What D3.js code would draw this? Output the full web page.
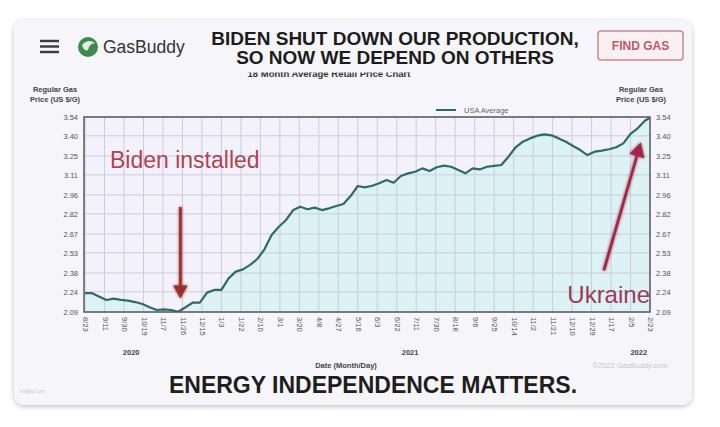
<!DOCTYPE html>
<html>
<head>
<meta charset="utf-8">
<script src="https://cdn.jsdelivr.net/npm/d3@7"></script>
<style>
  html, body { margin: 0; padding: 0; background: #ffffff; }
  svg { display: block; }
  text { font-family: "Liberation Sans", Arial, sans-serif; }
</style>
</head>
<body>
<svg id="chart" width="720" height="427"></svg>
<script>
// ---------------- DATA ----------------
const startDate = "2020-08-23";          // first weekly reading
const weeklyPrices = [
  2.23, 2.23, 2.204, 2.179, 2.189, 2.18, 2.174, 2.164, 2.149, 2.125,
  2.105, 2.11, 2.105, 2.092, 2.125, 2.16, 2.16, 2.234, 2.254, 2.254,
  2.34, 2.39, 2.407, 2.44, 2.484, 2.556, 2.663, 2.724, 2.774, 2.848,
  2.873, 2.854, 2.866, 2.848, 2.861, 2.878, 2.893, 2.952, 3.027, 3.017,
  3.029, 3.047, 3.071, 3.051, 3.101, 3.121, 3.133, 3.158, 3.138, 3.166,
  3.178, 3.17, 3.146, 3.121, 3.158, 3.15, 3.17, 3.176, 3.183, 3.245,
  3.315, 3.356, 3.381, 3.401, 3.411, 3.404, 3.381, 3.356, 3.324, 3.294,
  3.257, 3.282, 3.29, 3.30, 3.315, 3.344, 3.414, 3.456, 3.512
];
const lastDate = "2022-02-25";
const lastPrice = 3.535;

const yTicks = [2.09, 2.24, 2.38, 2.53, 2.67, 2.82, 2.96, 3.11, 3.25, 3.40, 3.54];
const xLabels = ["8/23","9/11","9/30","10/19","11/7","11/26","12/15","1/3","1/22","2/10",
                 "3/1","3/20","4/8","4/27","5/16","6/3","6/22","7/11","7/30","8/18",
                 "9/6","9/25","10/14","11/2","11/21","12/10","12/29","1/17","2/5","2/23"];
const years = [{label: "2020", date: "2020-10-07"}, {label: "2021", date: "2021-07-06"}, {label: "2022", date: "2022-02-14"}];
const seriesName = "USA Average";

// ---------------- SETUP ----------------
const parse = d3.timeParse("%Y-%m-%d");
const t0 = parse(startDate);
const series = weeklyPrices.map((p, i) => ({date: d3.timeDay.offset(t0, 7 * i), price: p}));
series.push({date: parse(lastDate), price: lastPrice});

const svg = d3.select("#chart");
const L = 84, R = 650, T = 117, B = 312;

const x = d3.scaleTime().domain([parse("2020-08-22"), parse("2022-02-25")]).range([L, R]);
const y = d3.scaleLinear().domain([2.09, 3.54]).range([B, T]);
const labelDates = xLabels.map((s, i) => d3.timeDay.offset(t0, 19 * i));

// defs
const defs = svg.append("defs");
const sh = defs.append("filter").attr("id", "shadow").attr("x", "-5%").attr("y", "-5%").attr("width", "110%").attr("height", "115%");
sh.append("feDropShadow").attr("dx", 0).attr("dy", 1.5).attr("stdDeviation", 2.5).attr("flood-color", "#000").attr("flood-opacity", 0.25);
const glow = defs.append("filter").attr("id", "glow").attr("x", "-20%").attr("y", "-20%").attr("width", "140%").attr("height", "140%");
glow.append("feGaussianBlur").attr("stdDeviation", 1.6).attr("result", "b");
const fm = glow.append("feMerge");
fm.append("feMergeNode").attr("in", "b");
fm.append("feMergeNode").attr("in", "SourceGraphic");
defs.append("clipPath").attr("id", "plotclip").append("rect").attr("x", L).attr("y", T).attr("width", R - L).attr("height", B - T);
defs.append("clipPath").attr("id", "subclip").append("rect").attr("x", 0).attr("y", 72.5).attr("width", 720).attr("height", 20);

// card
svg.append("rect").attr("x", 14).attr("y", 20).attr("width", 678).attr("height", 385).attr("rx", 10)
  .attr("fill", "#f6f6fa").attr("filter", "url(#shadow)");

// ---------------- HEADER ----------------
[41, 46.5, 52].forEach(yy => svg.append("rect").attr("x", 40).attr("y", yy - 1.2).attr("width", 19).attr("height", 2.4).attr("fill", "#3a3a3a"));
svg.append("circle").attr("cx", 88).attr("cy", 47).attr("r", 10).attr("fill", "#3d8a4a");
svg.append("path").attr("d", "M82,45 Q88,38 95,43 Q89,44 88,50 Q84,52 82,45 Z").attr("fill", "#e8e8e8");
svg.append("text").attr("x", 103).attr("y", 53).attr("font-size", 17.5).attr("fill", "#333").attr("font-family", "'Open Sans', sans-serif").text("GasBuddy");

svg.append("text").attr("x", 395).attr("y", 45).attr("text-anchor", "middle").attr("font-size", 19).attr("font-weight", "bold")
  .attr("fill", "#1c1c1c").text("BIDEN SHUT DOWN OUR PRODUCTION,");
svg.append("text").attr("x", 395).attr("y", 64).attr("text-anchor", "middle").attr("font-size", 19).attr("font-weight", "bold")
  .attr("fill", "#1c1c1c").text("SO NOW WE DEPEND ON OTHERS");
svg.append("text").attr("x", 329).attr("y", 77).attr("text-anchor", "middle").attr("font-size", 9.5).attr("font-weight", "bold")
  .attr("fill", "#333").attr("clip-path", "url(#subclip)").text("18 Month Average Retail Price Chart");

svg.append("rect").attr("x", 598).attr("y", 31).attr("width", 85).attr("height", 29).attr("rx", 3)
  .attr("fill", "#fbf0f1").attr("stroke", "#c98890").attr("stroke-width", 1.5);
svg.append("text").attr("x", 640.5).attr("y", 50).attr("text-anchor", "middle").attr("font-size", 12).attr("font-weight", "bold")
  .attr("fill", "#c2566a").text("FIND GAS");

// ---------------- PLOT ----------------
svg.append("rect").attr("x", L).attr("y", T).attr("width", R - L).attr("height", B - T).attr("fill", "#f3f2fb");

// area under line
svg.append("path").datum(series).attr("clip-path", "url(#plotclip)")
  .attr("d", d3.area().x(d => x(d.date)).y0(B).y1(d => y(d.price)))
  .attr("fill", "#ddf2f4");

// gridlines
svg.append("g").selectAll("line").data(yTicks).join("line")
  .attr("x1", L).attr("x2", R).attr("y1", d => y(d)).attr("y2", d => y(d))
  .attr("stroke", "#cdcbe0").attr("stroke-width", 1);
svg.append("g").selectAll("line").data(labelDates).join("line")
  .attr("x1", d => x(d)).attr("x2", d => x(d)).attr("y1", T).attr("y2", B)
  .attr("stroke", "#cdcbe0").attr("stroke-width", 1);

// line
svg.append("path").datum(series).attr("clip-path", "url(#plotclip)")
  .attr("d", d3.line().x(d => x(d.date)).y(d => y(d.price)))
  .attr("fill", "none").attr("stroke", "#2e6a6c").attr("stroke-width", 2.2).attr("stroke-linejoin", "round");

// frame
svg.append("rect").attr("x", L).attr("y", T).attr("width", R - L).attr("height", B - T)
  .attr("fill", "none").attr("stroke", "#5a5a5a").attr("stroke-width", 1.5);

// y axes
const fmt = d3.format(".2f");
const yl = d3.axisLeft(y).tickValues(yTicks).tickFormat(fmt).tickSize(0).tickPadding(6);
const yr = d3.axisRight(y).tickValues(yTicks).tickFormat(fmt).tickSize(0).tickPadding(6);
const gl = svg.append("g").attr("transform", `translate(${L},0)`).call(yl);
const gr = svg.append("g").attr("transform", `translate(${R},0)`).call(yr);
[gl, gr].forEach(g => {
  g.select(".domain").remove();
  g.selectAll("text").attr("font-size", 7.5).attr("fill", "#555").attr("font-family", "'Liberation Sans', Arial, sans-serif");
});

// x axis labels (rotated)
const xa = d3.axisBottom(x).tickValues(labelDates).tickFormat((d, i) => xLabels[i]).tickSize(0).tickPadding(0);
const gx = svg.append("g").attr("transform", `translate(0,${B})`).call(xa);
gx.select(".domain").remove();
gx.selectAll("text").attr("font-size", 7.5).attr("fill", "#555").attr("font-family", "'Liberation Sans', Arial, sans-serif")
  .attr("transform", "rotate(90)").attr("text-anchor", "start").attr("dy", "0.32em").attr("x", 5).attr("y", 0);

// years
svg.append("g").selectAll("text").data(years).join("text")
  .attr("x", d => x(parse(d.date))).attr("y", 355).attr("text-anchor", "middle")
  .attr("font-size", 7.5).attr("font-weight", "bold").attr("fill", "#444").text(d => d.label);

// axis titles
[55, 641].forEach(xx => {
  svg.append("text").attr("x", xx).attr("y", 92).attr("text-anchor", "middle").attr("font-size", 7.5).attr("font-weight", "bold").attr("fill", "#444").text("Regular Gas");
  svg.append("text").attr("x", xx).attr("y", 102).attr("text-anchor", "middle").attr("font-size", 7.5).attr("font-weight", "bold").attr("fill", "#444").text("Price (US $/G)");
});
svg.append("text").attr("x", 346).attr("y", 368).attr("text-anchor", "middle").attr("font-size", 7.5).attr("fill", "#444").attr("font-weight", "bold").text("Date (Month/Day)");
svg.append("text").attr("x", 630).attr("y", 368).attr("text-anchor", "middle").attr("font-size", 7.5).attr("fill", "#c4c4cc").text("©2022 GasBuddy.com");

// legend
svg.append("line").attr("x1", 436).attr("x2", 456).attr("y1", 110).attr("y2", 110).attr("stroke", "#2e6a6c").attr("stroke-width", 2);
svg.append("text").attr("x", 464).attr("y", 113).attr("font-size", 7.5).attr("fill", "#666").text(seriesName);

// ---------------- ANNOTATIONS ----------------
function arrow(x1, y1, x2, y2, color, w, head) {
  const ang = Math.atan2(y2 - y1, x2 - x1);
  const bx = x2 - head * Math.cos(ang), by = y2 - head * Math.sin(ang);
  const g = svg.append("g").attr("filter", "url(#glow)");
  g.append("line").attr("x1", x1).attr("y1", y1).attr("x2", bx).attr("y2", by).attr("stroke", color).attr("stroke-width", w);
  const px = Math.sin(ang) * head * 0.55, py = -Math.cos(ang) * head * 0.55;
  g.append("path").attr("d", `M${x2},${y2} L${bx + px},${by + py} L${bx - px},${by - py} Z`).attr("fill", color);
}
const bidenDate = parse("2020-11-24");
arrow(x(bidenDate), y(2.87), x(bidenDate), y(2.19), "#9a2f2c", 2.6, 13);
svg.append("text").attr("x", 110).attr("y", 168).attr("font-size", 23).attr("fill", "#b2434f").text("Biden installed");

arrow(x(parse("2022-01-11")), y(2.40), x(parse("2022-02-16")), y(3.35), "#a02845", 2.6, 14);
svg.append("text").attr("x", 650).attr("y", 303).attr("text-anchor", "end").attr("font-size", 24).attr("fill", "#9c3a55").text("Ukraine");

// ---------------- FOOTER ----------------
svg.append("text").attr("x", 373).attr("y", 393).attr("text-anchor", "middle").attr("font-size", 23).attr("font-weight", "bold")
  .attr("fill", "#1e1e1e").text("ENERGY INDEPENDENCE MATTERS.");
svg.append("text").attr("x", 20).attr("y", 393).attr("font-size", 5).attr("fill", "#c8c8d0").text("imgflip.com");
</script>
</body>
</html>
